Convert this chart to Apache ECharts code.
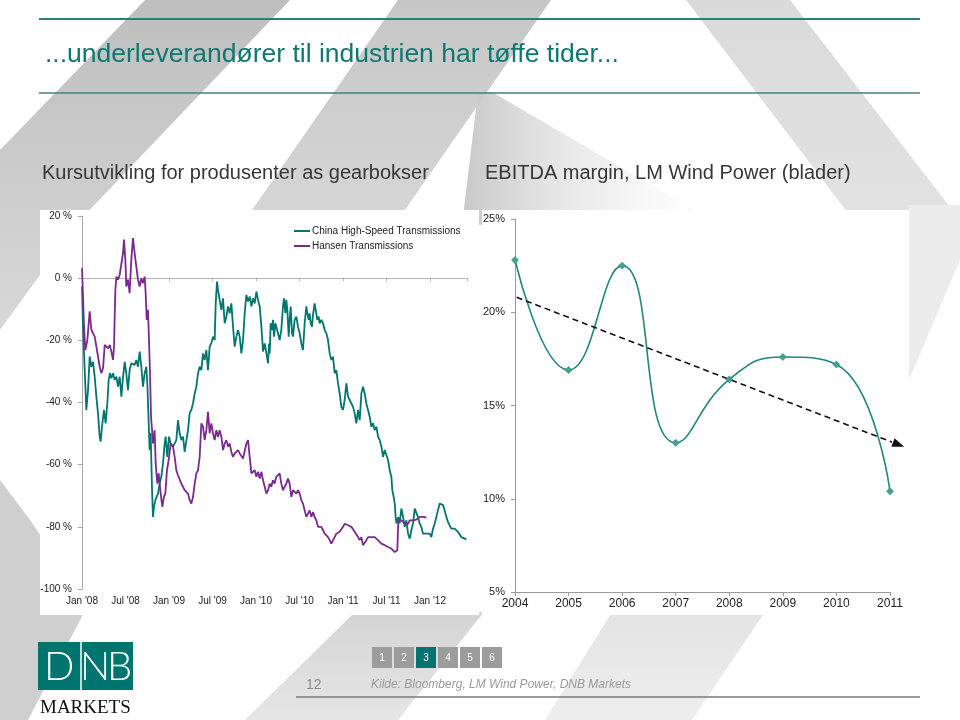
<!DOCTYPE html>
<html>
<head>
<meta charset="utf-8">
<script src="https://cdn.jsdelivr.net/npm/echarts@6.0.0/dist/echarts.min.js"></script>
<style>
	html,body{margin:0;padding:0;background:#fff;}
	#main{width:960px;height:720px;}
</style>
</head>
<body>
<div id="main"></div>
<script type="text/javascript">
	// Kursutvikling: [måneder etter jan 2008, endring i %]
	var chsData = [
		[0.00,-2.7],[0.14,-15.6],[0.37,-29.5],[0.60,-42.4],[0.83,-36.0],[1.06,-25.2],[1.29,-28.5],[1.52,-26.9],[1.75,-31.7],[1.98,-38.1],
		[2.21,-43.5],[2.44,-51.0],[2.57,-52.6],[2.76,-47.8],[3.03,-42.4],[3.26,-46.7],[3.49,-40.3],[3.68,-32.8],[3.86,-30.6],[4.05,-32.2],
		[4.28,-30.6],[4.51,-32.8],[4.74,-31.7],[4.97,-34.9],[5.20,-31.7],[5.43,-38.1],[5.66,-31.7],[5.89,-26.9],[6.11,-30.6],[6.34,-36.0],
		[6.57,-29.5],[6.80,-27.4],[7.03,-26.9],[7.26,-27.9],[7.49,-26.3],[7.72,-28.5],[7.95,-23.6],[8.18,-28.5],[8.41,-34.9],[8.64,-30.6],
		[8.87,-28.5],[9.01,-33.8],[9.20,-46.7],[9.33,-55.3],[9.47,-49.9],[9.66,-68.2],[9.79,-76.8],[9.93,-73.6],[10.11,-71.4],[10.30,-72.0],
		[10.48,-69.3],[10.71,-66.1],[10.94,-63.9],[11.17,-59.6],[11.40,-53.2],[11.54,-51.0],[11.77,-57.5],[12.00,-51.0],[12.23,-53.2],
		[12.55,-54.2],[13.01,-52.1],[13.24,-45.7],[13.47,-49.9],[13.70,-52.1],[13.93,-51.0],[14.16,-55.9],[14.39,-55.3],[14.62,-48.9],
		[14.85,-43.5],[15.08,-42.4],[15.31,-40.3],[15.54,-37.1],[15.77,-34.9],[16.00,-30.6],[16.23,-28.5],[16.46,-29.6],[16.69,-24.2],
		[16.92,-26.3],[17.15,-23.1],[17.38,-29.6],[17.61,-22.0],[17.84,-20.9],[18.07,-18.8],[18.30,-19.9],[18.44,-8.1],[18.62,-1.1],
		[18.76,-3.8],[18.99,-7.0],[19.22,-10.2],[19.45,-6.5],[19.68,-14.5],[19.91,-12.4],[20.14,-9.1],[20.37,-11.3],[20.60,-8.1],
		[20.83,-15.6],[21.06,-22.0],[21.29,-18.8],[21.52,-16.7],[21.75,-18.8],[21.98,-24.2],[22.21,-19.9],[22.44,-11.3],[22.67,-5.4],
		[22.90,-7.5],[23.13,-5.9],[23.36,-9.1],[23.59,-6.5],[23.82,-8.1],[24.05,-4.3],[24.28,-7.0],[24.51,-9.1],[24.74,-15.6],
		[24.97,-23.6],[25.20,-21.0],[25.43,-24.2],[25.66,-27.4],[25.79,-21.0],[25.89,-24.2],[26.02,-14.5],[26.21,-16.7],[26.34,-13.4],
		[26.48,-18.8],[26.67,-14.5],[26.80,-15.6],[27.03,-17.7],[27.26,-19.9],[27.49,-16.7],[27.72,-9.1],[27.86,-6.5],[28.05,-11.3],
		[28.18,-7.0],[28.32,-10.2],[28.51,-18.8],[28.64,-13.4],[28.78,-9.1],[28.97,-17.7],[29.10,-18.8],[29.33,-13.4],[29.56,-12.4],
		[29.79,-15.6],[30.02,-17.7],[30.25,-21.0],[30.48,-23.1],[30.71,-14.5],[30.94,-9.1],[31.08,-11.3],[31.26,-13.4],[31.40,-11.3],
		[31.54,-14.5],[31.72,-15.6],[31.86,-11.8],[32.08,-8.1],[32.32,-7.5],[32.46,-13.4],[32.64,-12.4],[32.78,-14.5],[33.01,-13.4],
		[33.24,-14.5],[33.47,-16.7],[33.70,-17.7],[33.93,-19.9],[34.16,-24.2],[34.39,-26.3],[34.62,-25.3],[34.85,-30.6],[35.08,-29.6],
		[35.31,-33.8],[35.54,-37.1],[35.77,-41.4],[36.00,-42.4],[36.23,-39.2],[36.46,-33.8],[36.69,-38.1],[36.92,-39.2],[37.15,-40.3],
		[37.38,-41.4],[37.61,-43.5],[37.84,-46.7],[38.07,-42.4],[38.30,-45.7],[38.53,-37.1],[38.76,-34.9],[38.99,-37.1],[39.22,-40.3],
		[39.45,-42.4],[39.68,-44.6],[39.91,-47.8],[40.14,-46.7],[40.37,-48.9],[40.60,-47.8],[40.83,-51.0],[41.06,-52.1],[41.29,-54.2],
		[41.52,-57.5],[41.75,-55.3],[41.98,-54.8],[42.21,-58.5],[42.44,-61.8],[42.67,-63.9],[42.80,-68.2],[42.99,-70.4],[43.13,-72.5],
		[43.26,-76.8],[43.36,-78.9],[43.49,-77.9],[43.63,-76.8],[43.82,-78.9],[44.05,-74.1],[44.28,-76.8],[44.51,-80.0],[44.74,-77.9],
		[44.97,-82.2],[45.20,-83.8],[45.43,-81.1],[45.66,-78.9],[45.89,-74.1],[46.11,-73.6],[46.34,-76.8],[46.57,-78.9],[46.80,-80.0],
		[47.03,-82.2],[47.26,-82.7],[47.49,-82.2],[47.72,-82.7],[47.95,-82.2],[48.18,-83.3],[48.41,-80.6],[48.64,-79.0],[48.87,-76.8],
		[49.10,-74.7],[49.33,-72.5],[49.56,-72.0],[49.79,-73.0],[50.02,-74.7],[50.25,-76.8],[50.48,-78.4],[50.71,-79.5],[50.94,-80.6],
		[51.17,-81.1],[51.40,-80.6],[51.63,-81.1],[51.86,-81.6],[52.09,-82.2],[52.32,-83.3],[52.55,-83.8],[52.78,-83.8],[53.01,-84.1]
	];
	var hansenData = [
		[0.00,3.2],[0.14,-5.9],[0.28,-15.6],[0.46,-23.1],[0.74,-19.9],[1.06,-10.7],[1.29,-16.6],[1.52,-16.1],[1.75,-18.8],[1.98,-22.0],
		[2.21,-25.2],[2.44,-28.5],[2.67,-30.6],[2.90,-29.0],[3.13,-21.5],[3.36,-22.0],[3.59,-22.6],[3.82,-21.5],[4.05,-23.6],[4.28,-26.3],
		[4.41,-22.0],[4.60,-3.8],[4.74,0.5],[4.97,-0.5],[5.20,1.1],[5.43,1.6],[5.66,8.1],[5.79,12.4],[5.98,5.9],[6.11,-2.7],
		[6.34,-0.5],[6.57,-4.8],[6.80,5.9],[7.03,12.9],[7.26,8.1],[7.49,3.8],[7.72,-0.5],[7.95,-2.7],[8.18,0.0],[8.41,-1.6],
		[8.64,0.5],[8.78,-4.8],[8.92,-13.4],[9.10,-10.2],[9.24,-19.9],[9.38,-30.6],[9.52,-44.6],[9.66,-48.9],[9.79,-53.2],[10.02,-48.9],
		[10.16,-59.6],[10.39,-66.1],[10.57,-62.8],[10.85,-69.3],[11.08,-73.6],[11.31,-70.3],[11.49,-69.3],[11.72,-61.8],[11.95,-58.5],
		[12.23,-53.2],[12.55,-54.2],[12.78,-57.5],[13.01,-61.8],[13.24,-63.4],[13.47,-63.9],[13.70,-66.1],[13.93,-67.1],[14.16,-68.2],
		[14.39,-68.7],[14.62,-69.3],[14.85,-71.4],[15.08,-72.5],[15.31,-70.4],[15.54,-66.1],[15.77,-62.8],[16.00,-61.8],[16.23,-57.5],
		[16.46,-46.7],[16.69,-47.8],[16.92,-52.1],[17.15,-48.9],[17.38,-43.0],[17.61,-49.9],[17.84,-46.7],[18.07,-49.9],[18.30,-52.1],
		[18.53,-48.9],[18.76,-51.0],[18.99,-48.9],[19.22,-51.0],[19.45,-55.3],[19.68,-53.2],[19.91,-52.1],[20.14,-54.2],[20.37,-53.2],
		[20.60,-55.9],[20.83,-57.5],[21.06,-56.4],[21.29,-56.9],[21.52,-55.3],[21.75,-56.4],[21.98,-56.4],[22.21,-58.0],[22.44,-57.5],
		[22.67,-53.2],[22.90,-52.1],[23.13,-57.5],[23.36,-62.8],[23.59,-63.4],[23.82,-61.8],[24.05,-63.9],[24.28,-62.3],[24.51,-64.5],
		[24.74,-62.3],[24.97,-65.0],[25.20,-67.1],[25.43,-69.3],[25.66,-68.2],[25.89,-66.1],[26.11,-67.1],[26.34,-65.0],[26.57,-66.1],
		[26.80,-63.9],[27.03,-63.4],[27.26,-62.8],[27.49,-66.1],[27.72,-68.2],[27.95,-67.1],[28.18,-66.1],[28.41,-64.5],[28.64,-66.1],
		[28.87,-70.4],[29.10,-68.2],[29.33,-67.7],[29.56,-69.3],[29.79,-68.2],[30.02,-69.3],[30.25,-71.4],[30.48,-72.5],[30.71,-74.7],
		[30.94,-76.8],[31.17,-76.3],[31.40,-74.7],[31.63,-76.8],[31.86,-75.2],[32.08,-76.8],[32.32,-77.9],[32.55,-80.0],[32.78,-80.6],
		[33.01,-80.0],[33.24,-81.1],[33.47,-82.2],[33.70,-82.7],[33.93,-83.3],[34.16,-84.3],[34.39,-85.4],[34.62,-85.9],[34.85,-83.3],
		[35.08,-82.2],[35.31,-82.2],[35.54,-81.6],[35.77,-81.1],[36.00,-80.0],[36.23,-79.0],[36.46,-79.0],[36.69,-79.5],[36.92,-79.0],
		[37.15,-80.0],[37.38,-80.0],[37.61,-81.6],[37.84,-82.2],[38.07,-83.3],[38.30,-84.3],[38.53,-83.3],[38.76,-85.9],[38.99,-86.5],
		[39.22,-84.3],[39.45,-83.3],[39.68,-83.8],[39.91,-83.3],[40.14,-82.7],[40.37,-83.3],[40.60,-83.8],[40.83,-84.3],[41.06,-84.9],
		[41.29,-85.4],[41.52,-85.4],[41.75,-85.9],[41.98,-85.9],[42.21,-86.5],[42.44,-86.5],[42.67,-87.0],[42.90,-87.5],[43.13,-88.1],
		[43.36,-88.6],[43.49,-87.5],[43.63,-77.9],[43.82,-77.3],[44.05,-77.9],[44.28,-78.4],[44.51,-79.0],[44.74,-78.4],[44.97,-79.0],
		[45.20,-77.9],[45.43,-78.4],[45.66,-77.9],[45.89,-77.3],[46.11,-77.7],[46.34,-77.3],[46.57,-76.8],[46.80,-77.0],[47.03,-76.8],
		[47.26,-77.1],[47.49,-77.0]
	];
	var monthLabels = ["Jan '08","Jul '08","Jan '09","Jul '09","Jan '10","Jul '10","Jan '11","Jul '11","Jan '12"];

	// EBITDA margin LM Wind Power
	var years = [2004,2005,2006,2007,2008,2009,2010,2011];
	var ebitda = [22.8,16.9,22.5,13.0,16.4,17.6,17.2,10.4];
	var trendX = [2004.03,2011.16];
	var trendY = [20.8,12.9];

	var pages = ['1','2','3','4','5','6'];

	var TEAL = '#0e7770';
	var FONT = "'Liberation Sans', Arial, sans-serif";

	function poly(points,fill){
		return {type:'polygon',z:-10,shape:{points:points},style:{fill:fill}};
	}
	function vgrad(a,b){ return new echarts.graphic.LinearGradient(0,0,0,1,[{offset:0,color:a},{offset:1,color:b}]); }
	function hgrad(a,b){ return new echarts.graphic.LinearGradient(0,0,1,0,[{offset:0,color:a},{offset:1,color:b}]); }
	function txt(x,y,s,size,fill,extra){
		var st = {text:s,fill:fill,fontSize:size,fontFamily:FONT,verticalAlign:'middle',align:'left'};
		for(var k in extra)st[k]=extra[k];
		return {type:'text',x:x,y:y,z:10,style:st};
	}

	var els = [];
	//bakgrunnsstriper
	els.push(poly([[145,0],[290,0],[80,220],[0,330],[0,150]],vgrad('#bebebe','#d8d8d8')));
	els.push(poly([[398,0],[551,0],[398,220],[245,220]],vgrad('#c6c6c6','#d6d6d6')));
	els.push(poly([[478,92],[492,92],[720,225],[462,225]],hgrad('#c8c8c8','rgba(240,240,240,0)')));
	els.push(poly([[686,0],[790,0],[960,220],[960,225],[857,225]],vgrad('#dadada','#e2e2e2')));
	els.push(poly([[909,205],[960,205],[960,260],[909,380]],'#ececec'));
	els.push(poly([[0,480],[30,520],[88,605],[28,720],[0,720]],'#cfcfcf'));
	els.push(poly([[355,612],[484,612],[398,720],[245,720]],vgrad('#d4d4d4','#e6e6e6')));
	els.push(poly([[612,612],[765,612],[692,720],[545,720]],vgrad('#e4e4e4','#eeeeee')));
	//hvite felt
	els.push({type:'rect',z:-5,shape:{x:40,y:210,width:439,height:405},style:{fill:'#fff'}});
	els.push({type:'rect',z:-5,shape:{x:482,y:210,width:427,height:405},style:{fill:'#fff'}});
	//topp
	els.push({type:'line',z:10,shape:{x1:39,y1:19,x2:920,y2:19},style:{stroke:'#2e7d76',lineWidth:2}});
	els.push({type:'line',z:10,shape:{x1:39,y1:93,x2:920,y2:93},style:{stroke:'#3a857e',lineWidth:1.5}});
	els.push(txt(45,55,'...underleverandører til industrien har tøffe tider...',26.5,TEAL));
	els.push(txt(42,173,'Kursutvikling for produsenter as gearbokser',20,'#363636'));
	els.push(txt(485,173,'EBITDA margin, LM Wind Power (blader)',20,'#363636'));
	//logo
	els.push({type:'rect',z:10,shape:{x:38,y:642,width:95,height:48},style:{fill:'#007570'}});
	els.push({type:'text',z:11,x:44,y:667,style:{text:'D',fill:'#fff',fontSize:40,fontFamily:"Lato, 'Liberation Sans', sans-serif",fontWeight:300,verticalAlign:'middle'}});
	els.push({type:'text',z:11,x:80,y:667,style:{text:'N',fill:'#fff',fontSize:40,fontFamily:"Lato, 'Liberation Sans', sans-serif",fontWeight:300,verticalAlign:'middle'}});
	els.push({type:'text',z:11,x:107,y:667,style:{text:'B',fill:'#fff',fontSize:40,fontFamily:"Lato, 'Liberation Sans', sans-serif",fontWeight:300,verticalAlign:'middle'}});
	els.push({type:'line',z:11,shape:{x1:81,y1:642,x2:81,y2:690},style:{stroke:'#fff',lineWidth:1.5}});
	els.push({type:'text',z:10,x:40,y:708,style:{text:'MARKETS',fill:'#111',fontSize:19,fontFamily:"'Liberation Serif', 'DejaVu Serif', serif",verticalAlign:'middle'}});
	//sidenavigasjon
	pages.forEach(function(p,i){
		els.push({type:'rect',z:10,shape:{x:372+i*22,y:647,width:20,height:21},style:{fill:i===2?'#007570':'#9c9c9c'}});
		els.push({type:'text',z:11,x:382+i*22,y:658,style:{text:p,fill:'#fff',fontSize:10,fontFamily:FONT,align:'center',verticalAlign:'middle'}});
	});
	els.push(txt(306,685,'12',14,'#8a8a8a'));
	els.push(txt(371,685,'Kilde: Bloomberg, LM Wind Power, DNB Markets',12,'#9a9a9a',{fontStyle:'italic'}));
	els.push({type:'line',z:10,shape:{x1:296,y1:697,x2:920,y2:697},style:{stroke:'#7d7772',lineWidth:1.5}});

	var trendData = [
		{value:[trendX[0],trendY[0]],symbol:'none'},
		{value:[trendX[1],trendY[1]],symbol:'triangle',symbolSize:[9,12],symbolRotate:-111}
	];

	var myChart = echarts.init(document.getElementById('main'));
	var option = {
		backgroundColor:'#fff',
		animation:false,
		textStyle:{fontFamily:FONT},
		graphic:{elements:els},
		legend:{
			orient:'vertical',left:289,top:221,itemGap:5,itemWidth:16,itemHeight:2,icon:'rect',selectedMode:false,
			textStyle:{fontSize:10,color:'#222',padding:[0,0,0,-3]},
			data:['China High-Speed Transmissions','Hansen Transmissions']
		},
		grid:[
			{left:82,top:216,width:385,height:373},
			{left:515,top:219,width:375,height:373}
		],
		xAxis:[
			{gridIndex:0,type:'value',min:0,max:53.1,interval:6,
				axisLine:{show:false,onZero:false},axisTick:{show:false},splitLine:{show:false},
				axisLabel:{fontSize:10,color:'#222',margin:7,showMaxLabel:false,formatter:function(v){return monthLabels[v/6]||'';}}},
			{gridIndex:0,type:'value',min:0,max:53.1,interval:6,position:'bottom',
				axisLine:{show:true,onZero:true,lineStyle:{color:'#b4b4b4',width:1}},
				axisTick:{show:true,length:3,lineStyle:{color:'#b4b4b4'}},axisLabel:{show:false},splitLine:{show:false}},
			{gridIndex:1,type:'value',min:2004,max:2011,interval:1,
				axisLine:{onZero:false,lineStyle:{color:'#9a9a9a'}},axisTick:{length:4,lineStyle:{color:'#9a9a9a'}},splitLine:{show:false},
				axisLabel:{fontSize:12,color:'#222',margin:6,formatter:function(v){return String(v);}}}
		],
		yAxis:[
			{gridIndex:0,type:'value',min:-100,max:20,interval:20,
				axisLine:{show:true,onZero:false,lineStyle:{color:'#a8a8a8'}},axisTick:{show:true,length:4,lineStyle:{color:'#a8a8a8'}},
				splitLine:{show:false},axisLabel:{fontSize:10,color:'#222',margin:10,formatter:'{value} %'}},
			{gridIndex:1,type:'value',min:5,max:25,interval:5,
				axisLine:{show:true,onZero:false,lineStyle:{color:'#9a9a9a'}},axisTick:{show:true,length:4,lineStyle:{color:'#9a9a9a'}},
				splitLine:{show:false},axisLabel:{fontSize:11,color:'#222',margin:10,formatter:'{value}%'}}
		],
		series:[
			{name:'China High-Speed Transmissions',type:'line',xAxisIndex:0,yAxisIndex:0,data:chsData,
				showSymbol:false,lineStyle:{width:1.8,color:'#00766e'},itemStyle:{color:'#00766e'}},
			{name:'Hansen Transmissions',type:'line',xAxisIndex:0,yAxisIndex:0,data:hansenData,
				showSymbol:false,lineStyle:{width:1.8,color:'#7a2a8e'},itemStyle:{color:'#7a2a8e'}},
			{name:'EBITDA',type:'line',xAxisIndex:2,yAxisIndex:1,smooth:true,
				data:years.map(function(y,i){return [y,ebitda[i]];}),
				symbol:'diamond',symbolSize:7,lineStyle:{width:1.6,color:'#1f877b'},
				itemStyle:{color:'#45a191',borderColor:'#23857a',borderWidth:0.6}},
			{name:'Trend',type:'line',xAxisIndex:2,yAxisIndex:1,clip:false,data:trendData,symbol:'triangle',
				lineStyle:{width:1.6,color:'#111',type:[6,4]},itemStyle:{color:'#111'}}
		]
	};
	myChart.setOption(option);
</script>
</body>
</html>
